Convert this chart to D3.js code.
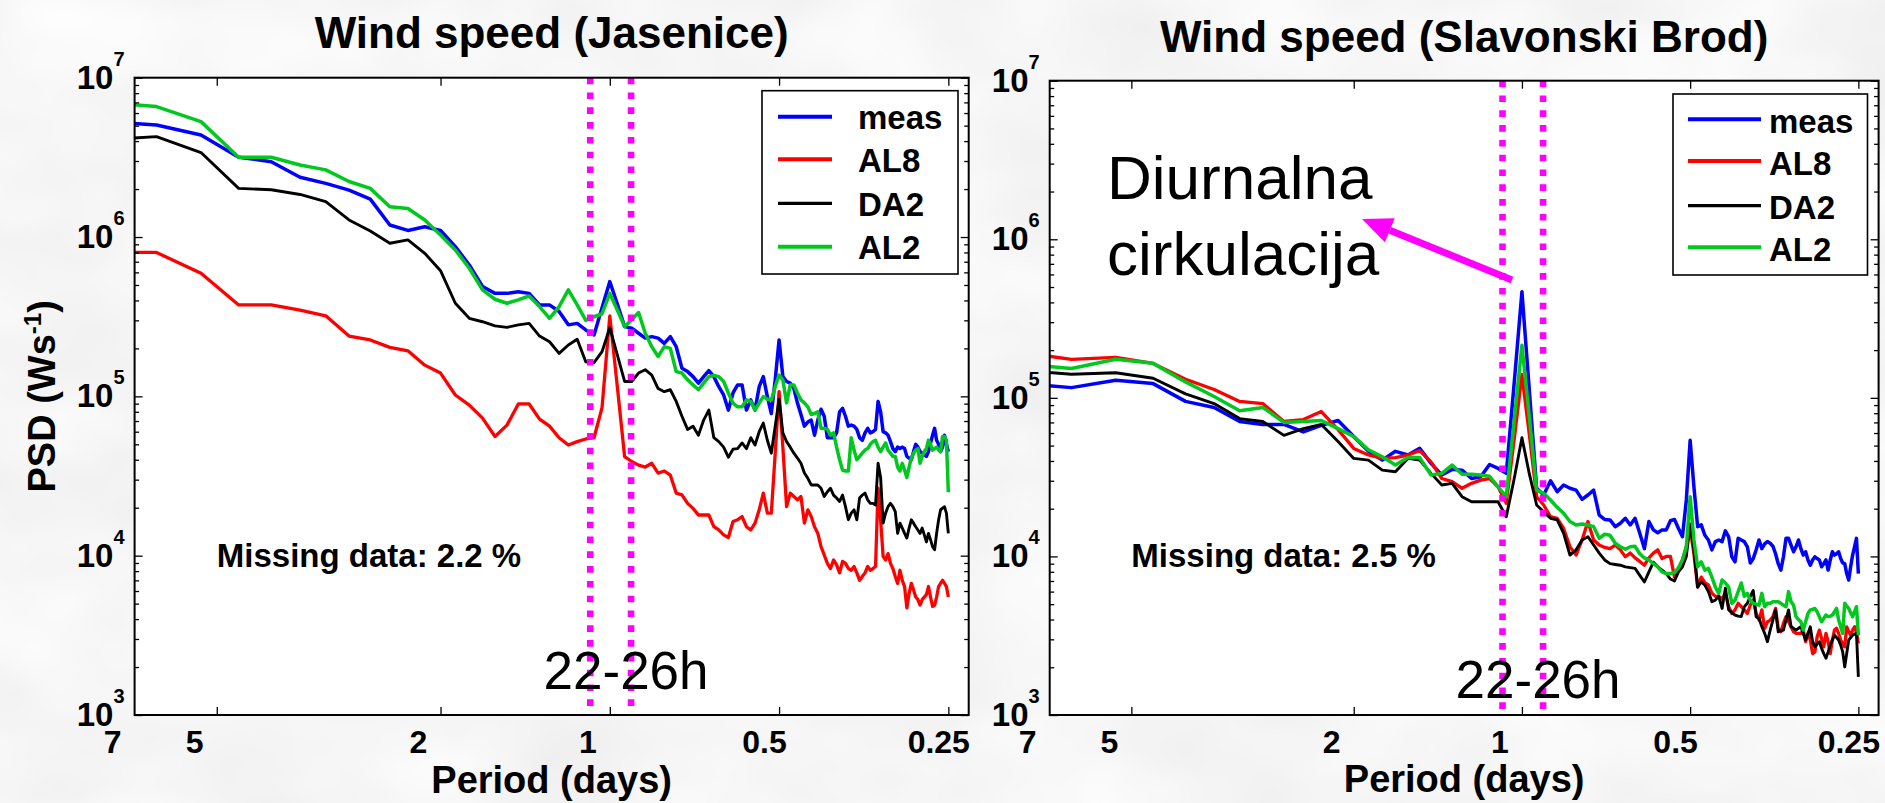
<!DOCTYPE html>
<html><head><meta charset="utf-8">
<script src="https://cdn.jsdelivr.net/npm/d3@7"></script>
<style>
html,body{margin:0;padding:0;background:#ececec;}
svg{display:block;}
text{font-family:"Liberation Sans", Arial, Helvetica, sans-serif;}
</style></head><body>
<svg id="chart" width="1885" height="803"></svg>
<script>
// ---------------- DATA ----------------
// Spectral estimates at frequencies k/32 cycles per day, k = 4..128
const harmonicIndex = d3.range(4, 129);
const freqStep = 1 / 32; // cycles per day

const seriesNames = ["meas", "AL8", "DA2", "AL2"];
const seriesColors = ["#0000ff", "#ff0000", "#000000", "#00c81e"];

// Jasenice
const measJasenice = [
 5.3e6,5.05e6,4.37e6,3.17e6,2.97e6,2.37e6,2.17e6,1.97e6,1.73e6,1.19e6,
 1.10e6,1.16e6,1.10e6,8.7e5,6.68e5,4.89e5,4.43e5,4.43e5,4.54e5,4.43e5,
 3.75e5,3.75e5,3.41e5,2.81e5,2.87e5,2.61e5,2.43e5,3.6e5,5.25e5,3.8e5,
 2.74e5,2.68e5,2.49e5,2.32e5,2.37e5,2.32e5,2.15e5,2.37e5,2.05e5,1.50e5,
 1.43e5,1.33e5,1.21e5,1.33e5,1.45e5,1.33e5,1.15e5,1.02e5,8.2e4,1.05e5,
 1.18e5,1.18e5,8.2e4,9.5e4,8.2e4,1.15e5,1.33e5,9.96e4,7.8e4,1.27e5,
 2.26e5,1.33e5,1.24e5,1.21e5,1.12e5,9.1e4,7.7e4,6.5e4,6.9e4,7.1e4,
 5.7e4,7.1e4,8.3e4,7.5e4,5.5e4,5.5e4,5.5e4,5.9e4,8.0e4,8.4e4,
 7.5e4,6.5e4,6.6e4,6.5e4,6.2e4,5.5e4,5.3e4,5.9e4,6.3e4,5.9e4,
 6.0e4,6.2e4,9.3e4,8.0e4,6.0e4,5.9e4,5.7e4,5.2e4,4.7e4,4.5e4,
 4.8e4,4.7e4,4.8e4,4.7e4,4.2e4,4.1e4,4.0e4,4.5e4,5.0e4,4.8e4,
 4.5e4,4.4e4,4.3e4,4.2e4,4.5e4,5.1e4,5.7e4,6.3e4,5.3e4,5.0e4,
 4.5e4,4.8e4,5.7e4,5.0e4,4.5e4];
const al8Jasenice = [
 8.0e5,8.0e5,5.92e5,3.75e5,3.75e5,3.48e5,3.2e5,2.39e5,2.26e5,2.03e5,
 1.93e5,1.57e5,1.40e5,1.02e5,8.8e4,7.3e4,5.6e4,6.6e4,8.96e4,8.96e4,
 7.2e4,6.5e4,5.5e4,4.95e4,5.2e4,5.4e4,5.5e4,8.5e4,3.2e5,1.15e5,
 4.19e4,3.9e4,3.7e4,3.6e4,3.8e4,3.3e4,3.4e4,3.2e4,2.47e4,2.41e4,
 2.13e4,1.98e4,1.80e4,1.80e4,1.80e4,1.52e4,1.45e4,1.35e4,1.30e4,1.64e4,
 1.68e4,1.76e4,1.52e4,1.45e4,1.60e4,1.94e4,2.47e4,1.85e4,1.85e4,4.4e4,
 1.07e5,4.8e4,2.03e4,2.47e4,2.35e4,2.24e4,2.35e4,1.6e4,1.94e4,1.76e4,
 1.52e4,1.38e4,1.14e4,1.01e4,8.95e3,8.3e3,9.4e3,8.75e3,7.8e3,9.2e3,
 8.95e3,8.3e3,8.1e3,8.55e3,7.8e3,7.0e3,7.4e3,7.8e3,8.55e3,8.1e3,
 8.3e3,8.55e3,2.65e4,1.68e4,9.9e3,9.4e3,1.03e4,8.95e3,8.3e3,7.4e3,
 6.7e3,8.1e3,7.0e3,6.4e3,4.7e3,5.8e3,6.7e3,6.1e3,5.5e3,5.3e3,
 4.9e3,5.3e3,5.5e3,5.7e3,6.4e3,5.5e3,4.8e3,4.9e3,5.5e3,6.4e3,
 6.7e3,7.0e3,6.7e3,6.4e3,5.5e3];
const da2Jasenice = [
 4.07e6,4.27e6,3.39e6,2.02e6,1.98e6,1.85e6,1.67e6,1.28e6,1.09e6,9.14e5,
 9.6e5,7.9e5,6.15e5,3.84e5,3.09e5,2.94e5,2.77e5,2.71e5,2.81e5,2.87e5,
 2.39e5,2.20e5,1.86e5,2.10e5,2.28e5,1.65e5,1.63e5,1.91e5,2.7e5,1.82e5,
 1.24e5,1.24e5,1.40e5,1.47e5,1.36e5,1.12e5,1.07e5,1.10e5,9.3e4,7.5e4,
 6.2e4,6.5e4,5.7e4,7.1e4,8.2e4,5.5e4,5.2e4,4.8e4,4.15e4,4.66e4,
 4.7e4,5.1e4,4.7e4,5.5e4,4.95e4,6.0e4,6.8e4,5.3e4,4.4e4,6.5e4,
 9.6e4,5.9e4,5.2e4,4.8e4,4.4e4,4.1e4,3.8e4,3.3e4,3.06e4,2.78e4,
 2.78e4,2.78e4,2.65e4,2.35e4,2.52e4,2.65e4,2.4e4,2.3e4,2.19e4,2.4e4,
 2.03e4,1.68e4,1.85e4,1.94e4,1.68e4,2.3e4,2.4e4,2.47e4,2.24e4,2.13e4,
 2.13e4,2.08e4,3.8e4,3.1e4,1.6e4,1.85e4,2.03e4,2.13e4,2.03e4,1.89e4,
 1.38e4,1.6e4,1.49e4,1.38e4,1.29e4,1.49e4,1.68e4,1.6e4,1.52e4,1.45e4,
 1.38e4,1.49e4,1.35e4,1.22e4,1.38e4,1.26e4,1.14e4,1.09e4,1.38e4,1.68e4,
 1.94e4,1.99e4,2.03e4,1.85e4,1.38e4];
const al2Jasenice = [
 7.0e6,6.59e6,5.30e6,3.17e6,3.17e6,2.83e6,2.64e6,2.23e6,2.02e6,1.55e6,
 1.51e6,1.28e6,1.03e6,8.3e5,6.37e5,4.66e5,4.07e5,3.84e5,4.03e5,4.27e5,
 3.66e5,3.09e5,3.66e5,4.66e5,3.75e5,3.0e5,3.16e5,3.3e5,4.43e5,3.48e5,
 2.74e5,3.02e5,3.36e5,2.49e5,2.05e5,1.78e5,2.05e5,2.0e5,1.43e5,1.40e5,
 1.27e5,1.18e5,1.10e5,1.21e5,1.33e5,1.35e5,1.33e5,1.24e5,1.05e5,9.06e4,
 8.6e4,8.6e4,9.5e4,9.3e4,8.2e4,9.06e4,9.96e4,9.6e4,9.5e4,1.15e5,
 1.36e5,1.27e5,9.1e4,1.18e5,1.18e5,1.05e5,9.5e4,9.1e4,8.6e4,7.7e4,
 7.8e4,8.0e4,6.3e4,6.3e4,6.2e4,5.7e4,5.9e4,4.8e4,4.0e4,3.45e4,
 3.4e4,3.4e4,5.5e4,4.6e4,4.0e4,4.2e4,4.4e4,4.6e4,4.7e4,5.0e4,
 5.2e4,5.3e4,4.8e4,4.5e4,4.8e4,5.1e4,4.6e4,4.4e4,4.2e4,4.2e4,
 3.6e4,3.4e4,3.8e4,3.45e4,3.1e4,3.6e4,4.1e4,4.4e4,4.6e4,4.7e4,
 3.8e4,4.2e4,4.5e4,4.7e4,5.3e4,5.0e4,4.6e4,4.7e4,4.8e4,4.6e4,
 4.5e4,5.6e4,5.6e4,5.3e4,2.5e4];

// Slavonski Brod
const measSlavonski = [
 1.24e5,1.16e5,1.29e5,1.23e5,9.5e4,8.7e4,7.1e4,6.8e4,6.8e4,6.1e4,
 6.7e4,7.2e4,5.7e4,4.6e4,4.05e4,4.6e4,4.36e4,4.8e4,3.86e4,3.26e4,
 3.54e4,3.5e4,3.1e4,3.18e4,3.8e4,3.59e4,3.34e4,1.25e5,4.67e5,1.1e5,
 2.69e4,2.44e4,3.0e4,2.56e4,2.82e4,2.69e4,2.62e4,2.29e4,2.44e4,2.62e4,
 1.82e4,1.71e4,1.70e4,1.54e4,1.62e4,1.74e4,1.58e4,1.74e4,1.40e4,1.12e4,
 1.66e4,1.47e4,1.41e4,1.47e4,1.47e4,1.68e4,1.71e4,1.50e4,1.33e4,2.27e4,
 5.4e4,2.75e4,1.54e4,1.58e4,1.36e4,1.27e4,1.10e4,1.24e4,1.27e4,1.24e4,
 1.45e4,1.33e4,9.95e3,9.25e3,1.30e4,1.27e4,1.24e4,1.15e4,9.1e3,9.7e3,
 1.10e4,1.27e4,1.12e4,1.20e4,1.24e4,1.21e4,1.16e4,1.04e4,9.0e3,8.2e3,
 9.95e3,1.30e4,1.30e4,1.18e4,1.07e4,1.15e4,1.27e4,1.12e4,1.02e4,1.07e4,
 9.5e3,8.8e3,9.5e3,9.95e3,9.7e3,9.5e3,8.6e3,9.0e3,9.5e3,8.2e3,
 9.5e3,1.07e4,1.02e4,1.04e4,1.07e4,9.7e3,9.1e3,9.0e3,7.8e3,7.1e3,
 8.6e3,1.02e4,1.15e4,1.30e4,7.8e3];
const al8Slavonski = [
 1.95e5,1.75e5,1.80e5,1.65e5,1.31e5,1.13e5,9.5e4,9.2e4,7.1e4,7.3e4,
 8.2e4,6.3e4,4.8e4,4.36e4,4.15e4,4.2e4,4.36e4,4.65e4,3.95e4,3.1e4,
 2.96e4,2.69e4,2.89e4,3.03e4,3.1e4,2.75e4,2.16e4,5.5e4,1.4e5,5.8e4,
 2.38e4,2.11e4,1.78e4,1.74e4,1.50e4,1.15e4,1.02e4,1.27e4,1.66e4,1.27e4,
 1.18e4,1.14e4,1.12e4,1.18e4,1.10e4,9.95e3,1.05e4,9.8e3,9.3e3,8.8e3,
 9.8e3,1.05e4,1.1e4,9.7e3,1.0e4,1.0e4,7.4e3,8.3e3,9.5e3,1.15e4,
 1.5e4,1.04e4,6.4e3,7.4e3,6.8e3,6.6e3,5.85e3,5.6e3,5.6e3,5.4e3,
 5.85e3,4.82e3,4.37e3,4.6e3,5.06e3,4.82e3,4.6e3,4.37e3,4.93e3,5.3e3,
 4.37e3,3.97e3,4.6e3,3.52e3,3.87e3,3.97e3,4.17e3,4.7e3,3.52e3,3.35e3,
 3.78e3,4.17e3,3.87e3,3.6e3,3.35e3,3.27e3,3.27e3,3.27e3,3.43e3,2.9e3,
 3.27e3,2.97e3,2.44e3,2.5e3,3.11e3,3.43e3,3.04e3,2.69e3,3.27e3,2.9e3,
 2.44e3,2.97e3,3.43e3,3.52e3,3.27e3,2.97e3,2.82e3,2.69e3,3.6e3,3.35e3,
 3.19e3,3.43e3,3.6e3,3.35e3,2.82e3];
const da2Slavonski = [
 1.5e5,1.41e5,1.44e5,1.33e5,1.06e5,9.2e4,7.4e4,7.1e4,5.8e4,6.4e4,
 6.8e4,5.3e4,4.15e4,4.05e4,3.5e4,3.42e4,4.15e4,4.05e4,3.34e4,2.82e4,
 2.89e4,2.38e4,2.21e4,2.21e4,2.21e4,2.21e4,1.78e4,3.1e4,5.6e4,3.3e4,
 2.11e4,1.91e4,1.74e4,1.70e4,1.40e4,1.02e4,1.10e4,1.27e4,1.33e4,1.18e4,
 1.05e4,9.5e3,9.0e3,8.9e3,8.8e3,8.6e3,8.5e3,8.4e3,7.6e3,6.9e3,
 8.0e3,9.2e3,8.6e3,8.2e3,7.8e3,7.2e3,7.0e3,8.0e3,8.6e3,1.0e4,
 1.6e4,1.10e4,6.4e3,6.9e3,6.6e3,6.0e3,5.18e3,5.3e3,5.6e3,4.7e3,
 6.3e3,4.6e3,4.42e3,4.27e3,4.2e3,4.17e3,4.82e3,5.06e3,5.6e3,6.1e3,
 4.17e3,4.07e3,3.6e3,3.27e3,2.9e3,3.43e3,3.97e3,4.6e3,3.35e3,3.4e3,
 3.43e3,3.97e3,4.6e3,3.6e3,3.52e3,3.43e3,3.52e3,3.6e3,3.27e3,2.97e3,
 3.27e3,3.6e3,2.9e3,2.69e3,2.8e3,2.9e3,2.63e3,2.44e3,2.28e3,2.5e3,
 2.76e3,2.97e3,3.19e3,3.08e3,2.97e3,2.76e3,2.5e3,2.01e3,2.44e3,2.97e3,
 3.08e3,3.19e3,3.24e3,3.27e3,1.74e3];
const al2Slavonski = [
 1.65e5,1.53e5,1.75e5,1.65e5,1.26e5,1.02e5,8.3e4,8.7e4,7.0e4,7.1e4,
 7.2e4,6.4e4,5.7e4,4.7e4,4.25e4,3.77e4,4.2e4,4.2e4,3.26e4,3.34e4,
 3.77e4,3.3e4,3.3e4,3.26e4,3.2e4,2.75e4,2.38e4,7.2e4,2.15e5,7.5e4,
 2.62e4,2.5e4,2.27e4,2.04e4,1.87e4,1.66e4,1.58e4,1.60e4,1.58e4,1.54e4,
 1.30e4,1.38e4,1.36e4,1.21e4,1.15e4,1.11e4,1.15e4,1.16e4,1.04e4,9.8e3,
 9.5e3,9.0e3,8.6e3,8.0e3,7.8e3,7.8e3,7.9e3,8.5e3,9.5e3,1.15e4,
 2.38e4,1.27e4,8.6e3,9.25e3,8.2e3,8.4e3,7.4e3,6.4e3,5.85e3,7.1e3,
 6.8e3,6.4e3,5.06e3,5.3e3,6.0e3,6.8e3,5.6e3,5.85e3,5.3e3,5.06e3,
 5.0e3,4.93e3,5.85e3,4.82e3,5.06e3,5.06e3,5.18e3,5.18e3,5.18e3,5.06e3,
 4.93e3,4.82e3,6.0e3,5.18e3,4.93e3,4.17e3,4.0e3,3.87e3,3.43e3,3.87e3,
 4.37e3,4.6e3,4.63e3,4.7e3,4.48e3,4.17e3,3.87e3,4.07e3,4.27e3,4.17e3,
 4.2e3,4.27e3,4.48e3,4.7e3,3.97e3,3.6e3,3.27e3,5.06e3,4.86e3,4.7e3,
 4.42e3,4.17e3,4.48e3,4.82e3,3.19e3];

const periodTickValues = [7, 5, 2, 1, 0.5, 0.25];
const periodTickLabels = ["7", "5", "2", "1", "0.5", "0.25"];
const psdMajorTicks = [1e3, 1e4, 1e5, 1e6, 1e7];
const psdTickExponents = ["3", "4", "5", "6", "7"];
const panelTitles = ["Wind speed (Jasenice)", "Wind speed (Slavonski Brod)"];
const missingDataText = ["Missing data: 2.2 %", "Missing data: 2.5 %"];
const diurnalBandHours = [22, 26];
const bandLabel = "22-26h";
const calloutLines = ["Diurnalna", "cirkulacija"];

// ---------------- LAYOUT / STYLE ----------------
const W = 1885, H = 803;
const FONT = '"Liberation Sans", Arial, Helvetica, sans-serif';
const lineWidths = [3.5, 3.3, 2.9, 3.5];
const legendLineWidths = [4, 4, 3.2, 4];
const panels = [
  { values: [measJasenice, al8Jasenice, da2Jasenice, al2Jasenice],
    x0: 134.6, x1: 968.7, y0: 77.7, y1: 715, titleY: 48, xlabelY: 793,
    legend: { bx: 762, by: 90.7, bw: 196, bh: 183.3, lx0: 778, lx1: 832, tx: 858,
              ly: [116.7, 159.3, 203.3, 246.7], dy: 12.5 },
    bandLabelY: 689, missingY: 567, ylabel: true },
  { values: [measSlavonski, al8Slavonski, da2Slavonski, al2Slavonski],
    x0: 1049.7, x1: 1878.6, y0: 80.7, y1: 715, titleY: 52, xlabelY: 792,
    legend: { bx: 1673, by: 94, bw: 194.5, bh: 181, lx0: 1688, lx1: 1761, tx: 1769,
              ly: [119.3, 161, 205.7, 247.3], dy: 13.5 },
    bandLabelY: 698, missingY: 567, ylabel: false,
    callout: { tx: 1107, ty: [199, 275], ax0: 1512, ay0: 280, ax1: 1362, ay1: 219 } }
];

const svg = d3.select("#chart");
const defs = svg.append("defs");
const filt = defs.append("filter").attr("id", "mottle")
  .attr("x", 0).attr("y", 0).attr("width", "100%").attr("height", "100%");
filt.append("feTurbulence").attr("type", "fractalNoise")
  .attr("baseFrequency", "0.006 0.009").attr("numOctaves", 3).attr("seed", 5);
filt.append("feColorMatrix").attr("type", "matrix")
  .attr("values", "0.16 0 0 0 0.84  0.16 0 0 0 0.84  0.16 0 0 0 0.84  0 0 0 0 1");
svg.append("rect").attr("width", W).attr("height", H).attr("filter", "url(#mottle)");

panels.forEach((P, pi) => {
  const x = d3.scaleLog().domain([7, 0.23]).range([P.x0, P.x1]);
  const y = d3.scaleLog().domain([1e3, 1e7]).range([P.y1, P.y0]);
  const g = svg.append("g");

  g.append("rect").attr("x", P.x0).attr("y", P.y0)
    .attr("width", P.x1 - P.x0).attr("height", P.y1 - P.y0).attr("fill", "#fff");

  const clipId = "clip" + pi;
  defs.append("clipPath").attr("id", clipId).append("rect")
    .attr("x", P.x0).attr("y", P.y0).attr("width", P.x1 - P.x0).attr("height", P.y1 - P.y0);
  const plot = g.append("g").attr("clip-path", `url(#${clipId})`);

  const line = d3.line().x(d => x(d.period)).y(d => y(d.psd));
  seriesNames.forEach((name, si) => {
    const vals = P.values[si];
    if (vals.length !== harmonicIndex.length) console.warn(name, pi, vals.length);
    const pts = harmonicIndex.map((k, j) => ({ period: 1 / (k * freqStep), psd: vals[j] }));
    plot.append("path").attr("d", line(pts)).attr("fill", "none")
      .attr("stroke", seriesColors[si]).attr("stroke-width", lineWidths[si])
      .attr("stroke-linejoin", "round").attr("stroke-linecap", "butt");
  });

  // dotted diurnal band lines
  diurnalBandHours.forEach(h => {
    plot.append("line").attr("x1", x(h / 24)).attr("x2", x(h / 24))
      .attr("y1", P.y0).attr("y2", P.y1)
      .attr("stroke", "#ff00ff").attr("stroke-width", 6.6)
      .attr("stroke-dasharray", "6.6 8.2");
  });

  // axes (ticks inward)
  const minor = [];
  for (let e = 3; e < 7; e++) for (let m = 2; m <= 9; m++) minor.push(m * Math.pow(10, e));
  const axStyle = sel => { sel.selectAll("path").remove(); sel.selectAll("line").attr("stroke", "#000").attr("stroke-width", 1.3); sel.selectAll("text").remove(); };
  g.append("g").attr("transform", `translate(${P.x0},0)`).call(d3.axisLeft(y).tickValues(psdMajorTicks).tickSize(-8)).call(axStyle);
  g.append("g").attr("transform", `translate(${P.x0},0)`).call(d3.axisLeft(y).tickValues(minor).tickSize(-4.5)).call(axStyle);
  g.append("g").attr("transform", `translate(${P.x1},0)`).call(d3.axisRight(y).tickValues(psdMajorTicks).tickSize(-8)).call(axStyle);
  g.append("g").attr("transform", `translate(${P.x1},0)`).call(d3.axisRight(y).tickValues(minor).tickSize(-4.5)).call(axStyle);
  g.append("g").attr("transform", `translate(0,${P.y1})`).call(d3.axisBottom(x).tickValues(periodTickValues.slice(1)).tickSize(-8)).call(axStyle);
  g.append("g").attr("transform", `translate(0,${P.y0})`).call(d3.axisTop(x).tickValues(periodTickValues.slice(1)).tickSize(-8)).call(axStyle);
  g.append("rect").attr("x", P.x0).attr("y", P.y0)
    .attr("width", P.x1 - P.x0).attr("height", P.y1 - P.y0)
    .attr("fill", "none").attr("stroke", "#000").attr("stroke-width", 2);

  // y tick labels 10^n
  psdMajorTicks.forEach((v, i) => {
    const t = g.append("text").attr("x", P.x0 - 10).attr("y", y(v) + 11)
      .attr("text-anchor", "end").attr("font-weight", "bold").attr("font-family", FONT);
    t.append("tspan").attr("font-size", 33).text("10");
    t.append("tspan").attr("font-size", 20).attr("dy", -23).text(psdTickExponents[i]);
  });

  // x tick labels
  periodTickValues.forEach((v, i) => {
    const t = g.append("text").attr("y", 753).attr("font-weight", "bold")
      .attr("font-size", 32).attr("font-family", FONT).attr("text-anchor", "middle")
      .text(periodTickLabels[i]);
    const w = t.node().getComputedTextLength();
    t.attr("x", x(v) - 27 + 0.28 * w);
  });

  // axis titles
  g.append("text").attr("x", (P.x0 + P.x1) / 2).attr("y", P.xlabelY)
    .attr("text-anchor", "middle").attr("font-weight", "bold").attr("font-size", 38)
    .attr("font-family", FONT).text("Period (days)");
  if (P.ylabel) {
    const t = g.append("text").attr("transform", `translate(55,${(P.y0 + P.y1) / 2}) rotate(-90)`)
      .attr("text-anchor", "middle").attr("font-weight", "bold").attr("font-size", 38).attr("font-family", FONT);
    t.append("tspan").text("PSD (Ws");
    t.append("tspan").attr("font-size", 24).attr("dy", -14).text("-1");
    t.append("tspan").attr("dy", 14).text(")");
  }

  // title
  g.append("text").attr("x", (P.x0 + P.x1) / 2).attr("y", P.titleY)
    .attr("text-anchor", "middle").attr("font-weight", "bold").attr("font-size", 44)
    .attr("font-family", FONT).text(panelTitles[pi]);

  // annotations
  g.append("text").attr("x", x(diurnalBandHours[0] / 24) - 5).attr("y", P.bandLabelY)
    .attr("text-anchor", "middle").attr("font-size", 53).attr("font-family", FONT).text(bandLabel);
  g.append("text").attr("x", x(5)).attr("y", P.missingY)
    .attr("font-weight", "bold").attr("font-size", 33).attr("font-family", FONT).text(missingDataText[pi]);

  // legend
  const L = P.legend;
  g.append("rect").attr("x", L.bx).attr("y", L.by).attr("width", L.bw).attr("height", L.bh)
    .attr("fill", "#fff").attr("stroke", "#000").attr("stroke-width", 1.6);
  seriesNames.forEach((name, si) => {
    g.append("line").attr("x1", L.lx0).attr("x2", L.lx1).attr("y1", L.ly[si]).attr("y2", L.ly[si])
      .attr("stroke", seriesColors[si]).attr("stroke-width", legendLineWidths[si]);
    g.append("text").attr("x", L.tx).attr("y", L.ly[si] + L.dy)
      .attr("font-weight", "bold").attr("font-size", 33).attr("font-family", FONT).text(name);
  });

  // callout
  if (P.callout) {
    const C = P.callout;
    calloutLines.forEach((s, i) => {
      g.append("text").attr("x", C.tx).attr("y", C.ty[i]).attr("font-size", 62)
        .attr("font-family", FONT).text(s);
    });
    const ang = Math.atan2(C.ay1 - C.ay0, C.ax1 - C.ax0);
    const headLen = 30, headHalf = 13;
    const bx = C.ax1 - headLen * Math.cos(ang), by = C.ay1 - headLen * Math.sin(ang);
    g.append("line").attr("x1", C.ax0).attr("y1", C.ay0).attr("x2", bx).attr("y2", by)
      .attr("stroke", "#ff00ff").attr("stroke-width", 7);
    const px = -Math.sin(ang), py = Math.cos(ang);
    g.append("path").attr("d", `M${C.ax1},${C.ay1}L${bx + headHalf * px},${by + headHalf * py}L${bx - headHalf * px},${by - headHalf * py}Z`)
      .attr("fill", "#ff00ff");
  }
});
</script>
</body></html>
